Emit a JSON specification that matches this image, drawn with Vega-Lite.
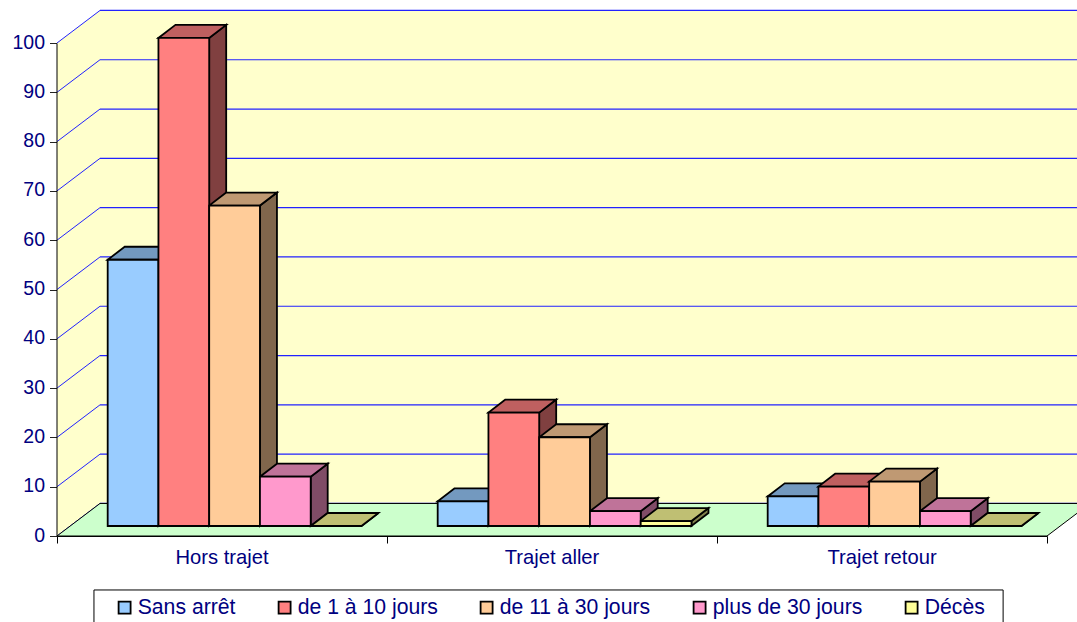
{"$schema":"https://vega.github.io/schema/vega-lite/v6.json","width":1077,"height":622,"padding":0,"autosize":{"type":"none"},"background":"white",
"datasets":{"ticks":[{"tick":0},{"tick":10},{"tick":20},{"tick":30},{"tick":40},{"tick":50},{"tick":60},{"tick":70},{"tick":80},{"tick":90},{"tick":100}]},
"data":{"values":[
{"category":"Hors trajet","series":"Sans arrêt","value":54},{"category":"Hors trajet","series":"de 1 à 10 jours","value":99},{"category":"Hors trajet","series":"de 11 à 30 jours","value":65},{"category":"Hors trajet","series":"plus de 30 jours","value":10},{"category":"Hors trajet","series":"Décès","value":0},
{"category":"Trajet aller","series":"Sans arrêt","value":5},{"category":"Trajet aller","series":"de 1 à 10 jours","value":23},{"category":"Trajet aller","series":"de 11 à 30 jours","value":18},{"category":"Trajet aller","series":"plus de 30 jours","value":3},{"category":"Trajet aller","series":"Décès","value":1},
{"category":"Trajet retour","series":"Sans arrêt","value":6},{"category":"Trajet retour","series":"de 1 à 10 jours","value":8},{"category":"Trajet retour","series":"de 11 à 30 jours","value":9},{"category":"Trajet retour","series":"plus de 30 jours","value":3},{"category":"Trajet retour","series":"Décès","value":0}]},
"transform":[
{"calculate":"indexof(['Hors trajet','Trajet aller','Trajet retour'],datum.category)","as":"c"},
{"calculate":"indexof(['Sans arrêt','de 1 à 10 jours','de 11 à 30 jours','plus de 30 jours','Décès'],datum.series)","as":"s"},
{"calculate":"datum.c+0.1536+datum.s*0.1538","as":"x0"},
{"calculate":"datum.x0+0.1538","as":"x1"},
{"calculate":"2.03","as":"base"},
{"calculate":"datum.value+2.03","as":"top"},
{"calculate":"datum.c+0.5","as":"mid"},
{"calculate":"-4.55","as":"labelY"}],
"layer":[
{"data":{"values":[{"xa":0.1303,"xb":3.1303,"ya":6.6,"yb":106.6}]},"transform":[],"mark":{"type":"rect","fill":"#FFFFCC"},
 "encoding":{"x":{"field":"xa","type":"quantitative","scale":{"domain":[0,3],"range":[57,1047],"nice":false,"zero":false},"title":null,"axis":{"values":[0,1,2,3],"labels":false,"offset":-86,"tickSize":7,"tickColor":"black","domainColor":"black","grid":false,"zindex":1}},"x2":{"field":"xb"},
 "y":{"field":"ya","type":"quantitative","scale":{"domain":[0,100],"range":[536,43],"nice":false,"zero":false},"title":null,"axis":{"values":[0,10,20,30,40,50,60,70,80,90,100],"offset":-56.5,"tickSize":7,"tickColor":"#222222","domainColor":"black","grid":false,"labelFont":"Liberation Sans","labelFontSize":19.5,"labelColor":"#000080","labelPadding":5,"labelOffset":-1,"zindex":1}},"y2":{"field":"yb"}}},
{"data":{"values":[{"xp":0,"lo":0,"hi":100},{"xp":0.1303,"lo":6.6,"hi":106.6}]},"transform":[],"mark":{"type":"area","fill":"#FFFFCC","orient":"vertical"},
 "encoding":{"x":{"field":"xp","type":"quantitative"},"y":{"field":"hi","type":"quantitative"},"y2":{"field":"lo"}}},
{"data":{"name":"ticks"},"transform":[{"calculate":"0.1303","as":"xa"},{"calculate":"3.1303","as":"xb"},{"calculate":"datum.tick+6.6","as":"yb"}],"mark":{"type":"rule","strokeWidth":1.2,"stroke":"#2222FF"},
 "encoding":{"x":{"field":"xa","type":"quantitative"},"x2":{"field":"xb"},"y":{"field":"yb","type":"quantitative"}}},
{"data":{"name":"ticks"},"transform":[{"calculate":"0","as":"xa"},{"calculate":"0.1303","as":"xb"},{"calculate":"datum.tick+6.6","as":"yb"}],"mark":{"type":"rule","strokeWidth":1,"stroke":"#2222FF"},
 "encoding":{"x":{"field":"xa","type":"quantitative"},"x2":{"field":"xb"},"y":{"field":"tick","type":"quantitative"},"y2":{"field":"yb"}}},
{"data":{"values":[{"yp":0,"xl":0,"xr":3},{"yp":6.6,"xl":0.1303,"xr":3.1303}]},"transform":[],"mark":{"type":"area","orient":"horizontal","fill":"#CCFFCC","stroke":"black","strokeWidth":1},
 "encoding":{"y":{"field":"yp","type":"quantitative"},"x":{"field":"xl","type":"quantitative"},"x2":{"field":"xr"}}},
{"transform":[{"calculate":"[0,1]","as":"e"},{"flatten":["e"]},{"calculate":"datum.x1+datum.e*0.0515","as":"px"},{"calculate":"datum.top+datum.e*2.64","as":"yt"},{"calculate":"datum.base+datum.e*2.64","as":"yb"}],
 "mark":{"type":"area","orient":"vertical","stroke":"black","strokeWidth":1.8},
 "encoding":{"x":{"field":"px","type":"quantitative"},"y":{"field":"yt","type":"quantitative"},"y2":{"field":"yb"},"detail":{"field":"category"},
 "color":{"field":"series","type":"nominal","legend":null,"scale":{"domain":["Sans arrêt","de 1 à 10 jours","de 11 à 30 jours","plus de 30 jours","Décès"],"range":["#4C6680","#804040","#80664C","#804C66","#80804C"]}}}},
{"transform":[{"calculate":"[0,1]","as":"e"},{"flatten":["e"]},{"calculate":"datum.x0+datum.e*0.0515","as":"pl"},{"calculate":"datum.x1+datum.e*0.0515","as":"pr"},{"calculate":"datum.top+datum.e*2.64","as":"yt"}],
 "mark":{"type":"area","orient":"horizontal","stroke":"black","strokeWidth":1.8},
 "encoding":{"y":{"field":"yt","type":"quantitative"},"x":{"field":"pl","type":"quantitative"},"x2":{"field":"pr"},"detail":{"field":"category"},
 "color":{"field":"series","type":"nominal","legend":null,"scale":{"domain":["Sans arrêt","de 1 à 10 jours","de 11 à 30 jours","plus de 30 jours","Décès"],"range":["#7399BF","#BF6060","#BF9973","#BF7399","#BFBF73"]}}}},
{"mark":{"type":"rect","stroke":"black","strokeWidth":1.8},
 "encoding":{"x":{"field":"x0","type":"quantitative"},"x2":{"field":"x1"},"y":{"field":"top","type":"quantitative"},"y2":{"field":"base"},
 "color":{"field":"series","type":"nominal","scale":{"domain":["Sans arrêt","de 1 à 10 jours","de 11 à 30 jours","plus de 30 jours","Décès"],"range":["#99CCFF","#FF8080","#FFCC99","#FF99CC","#FFFF99"]},
 "legend":{"orient":"none","legendX":114,"legendY":597,"direction":"horizontal","columns":5,"columnPadding":38,"title":null,"symbolType":"square","symbolSize":144,"symbolStrokeColor":"black","symbolStrokeWidth":1.8,"labelFont":"Liberation Sans","labelFontSize":21.2,"labelColor":"#000080","labelOffset":2.5,"padding":0,"labelLimit":300}}}},
{"transform":[{"filter":"datum.s===0"}],"mark":{"type":"text","font":"Liberation Sans","fontSize":20.2,"color":"#000080","align":"center","baseline":"middle"},
 "encoding":{"x":{"field":"mid","type":"quantitative"},"y":{"field":"labelY","type":"quantitative"},"text":{"field":"category"}}},
{"data":{"values":[{"xa":0.112,"xb":2.867,"ya":-10.95,"yb":-20}]},"transform":[],"mark":{"type":"rect","fill":null,"stroke":"black","strokeWidth":1},
 "encoding":{"x":{"field":"xa","type":"quantitative"},"x2":{"field":"xb"},"y":{"field":"ya","type":"quantitative"},"y2":{"field":"yb"}}}
],
"resolve":{"scale":{"color":"independent"}},
"config":{"view":{"stroke":null}}}
